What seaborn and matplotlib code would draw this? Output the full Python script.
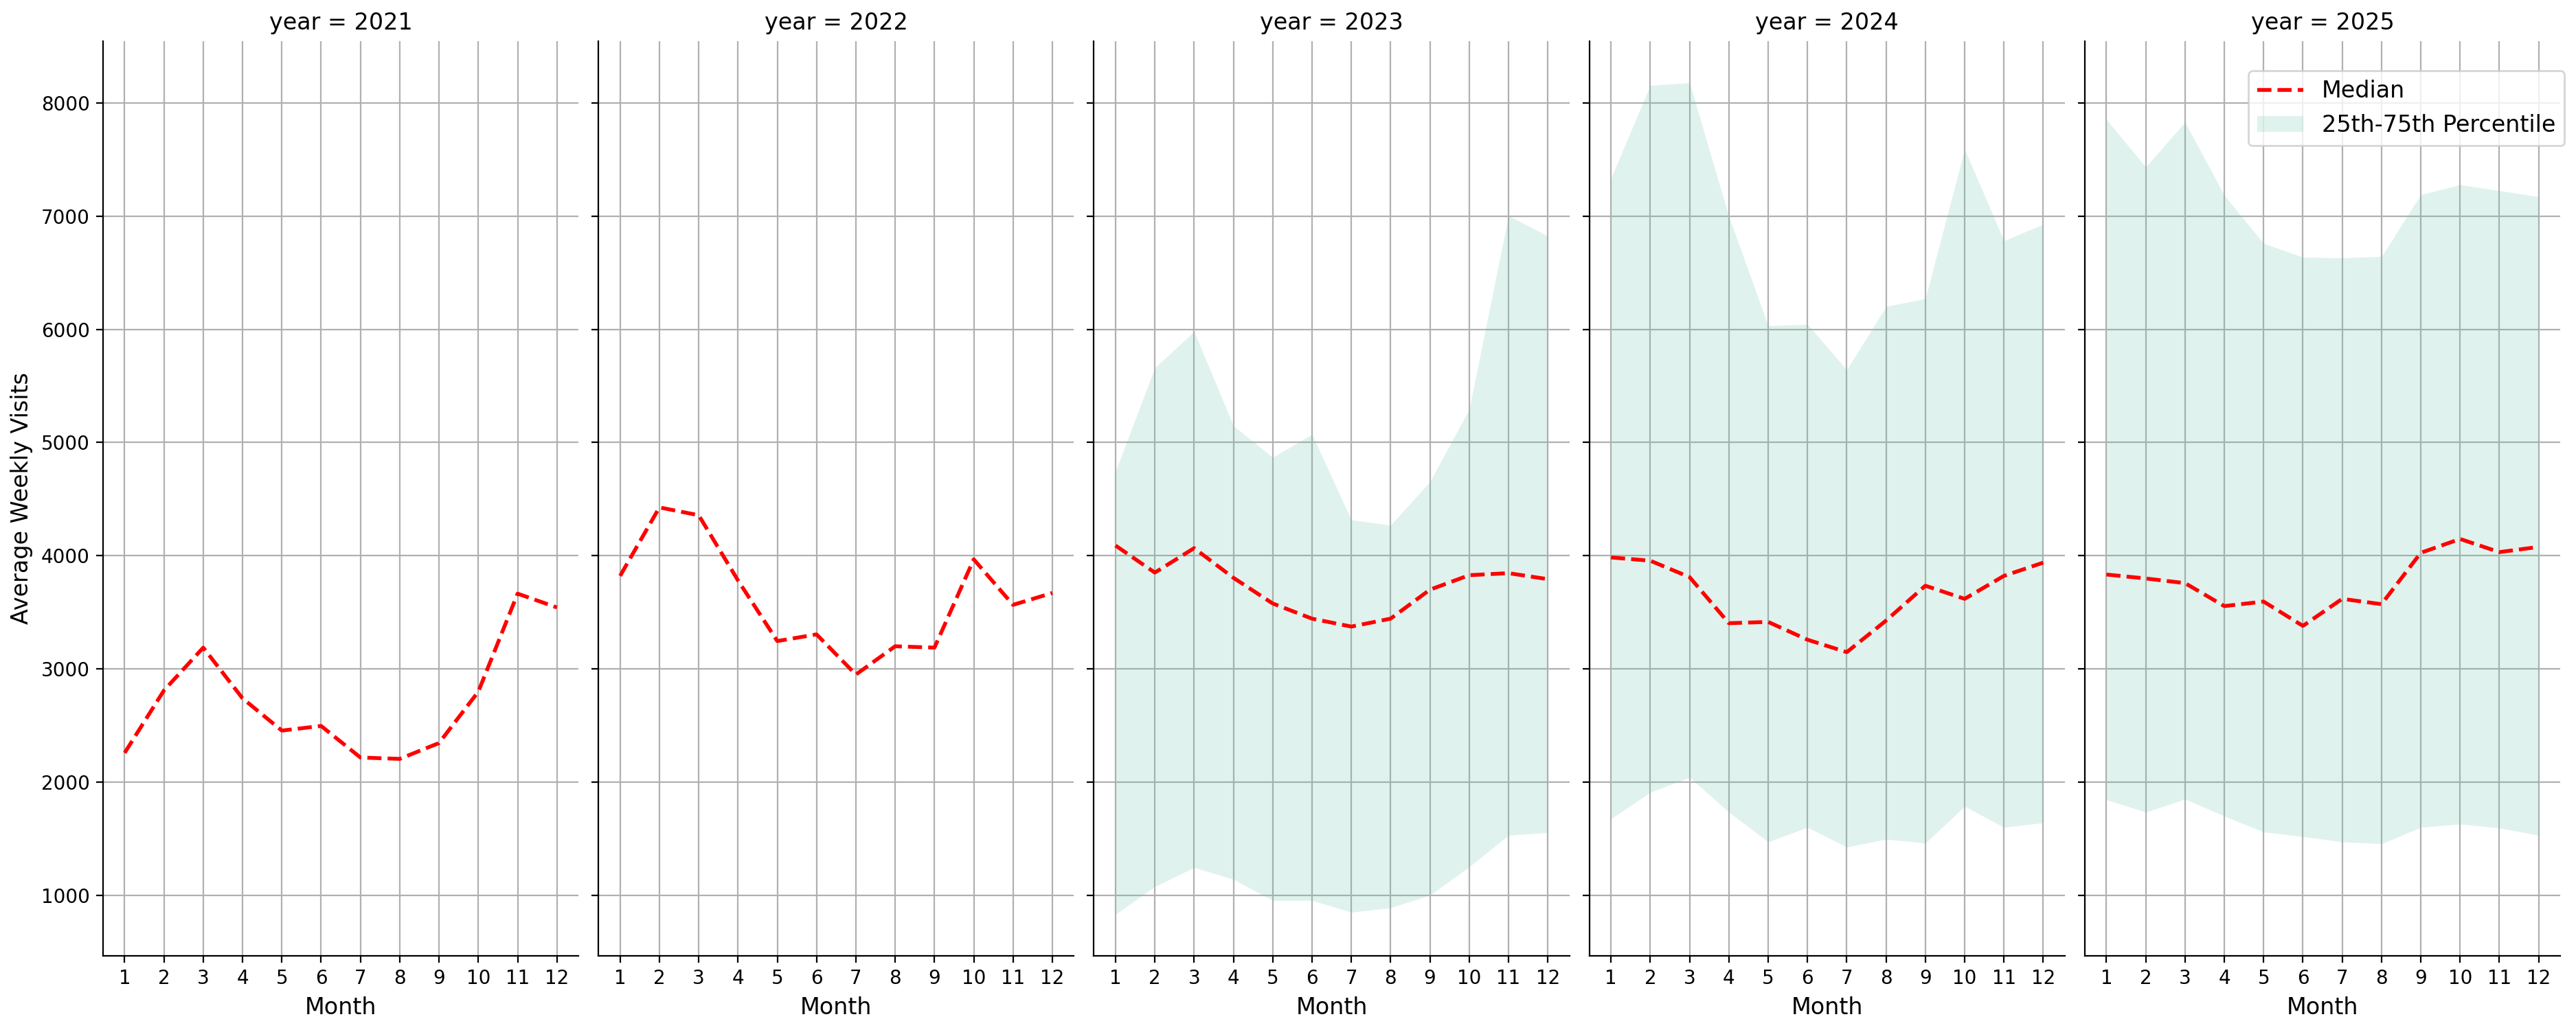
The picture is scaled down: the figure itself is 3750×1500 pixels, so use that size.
# Weekly visits by month, one panel per year (median + IQR band)

import pandas as pd
import numpy as np
import matplotlib
matplotlib.use("Agg")
import matplotlib.pyplot as plt
import seaborn as sns

# Data

years = [2021, 2022, 2023, 2024, 2025]
months = list(range(1, 13))

median_2021 = [2257, 2809, 3187, 2739, 2454, 2495, 2216, 2204, 2344, 2798, 3664, 3542]
median_2022 = [3821, 4426, 4357, 3781, 3245, 3304, 2949, 3199, 3187, 3967, 3565, 3670]
median_2023 = [4089, 3850, 4066, 3804, 3577, 3443, 3373, 3443, 3699, 3827, 3845, 3792]
median_2024 = [3984, 3955, 3810, 3403, 3414, 3257, 3147, 3426, 3734, 3618, 3821, 3938]
median_2025 = [3833, 3798, 3757, 3554, 3594, 3379, 3618, 3571, 4025, 4147, 4031, 4077]

# no spread for the first two years
p25_2021 = [np.nan] * 12
p75_2021 = [np.nan] * 12
p25_2022 = [np.nan] * 12
p75_2022 = [np.nan] * 12

p25_2023 = [831, 1076, 1244, 1140, 953, 953, 849, 889, 1000, 1250, 1529, 1553]
p75_2023 = [4746, 5660, 5980, 5148, 4868, 5072, 4316, 4269, 4653, 5293, 7004, 6823]

p25_2024 = [1675, 1908, 2041, 1733, 1471, 1599, 1425, 1494, 1460, 1785, 1599, 1640]
p75_2024 = [7335, 8155, 8178, 6998, 6032, 6044, 5642, 6201, 6271, 7591, 6782, 6928]

p25_2025 = [1844, 1733, 1849, 1698, 1558, 1518, 1471, 1454, 1599, 1628, 1593, 1529]
p75_2025 = [7853, 7434, 7830, 7184, 6759, 6637, 6631, 6643, 7190, 7277, 7225, 7172]

medians = [median_2021, median_2022, median_2023, median_2024, median_2025]
p25s = [p25_2021, p25_2022, p25_2023, p25_2024, p25_2025]
p75s = [p75_2021, p75_2022, p75_2023, p75_2024, p75_2025]

# Long-form table for the FacetGrid
frames = []
for yr, med, lo, hi in zip(years, medians, p25s, p75s):
    frames.append(pd.DataFrame({
        'year': yr,
        'month': months,
        'median': med,
        'p25': lo,
        'p75': hi,
    }))
df = pd.concat(frames, ignore_index=True)

# Styling
plt.rcParams['xtick.labelsize'] = 10
plt.rcParams['ytick.labelsize'] = 10
plt.rcParams['axes.labelsize'] = 12
plt.rcParams['axes.titlesize'] = 12
plt.rcParams['legend.fontsize'] = 12

band_color = sns.color_palette("Set2")[0]


def draw_year(data, **kws):
    ax = plt.gca()
    ax.set_axisbelow(True)
    ax.grid(True)
    ax.fill_between(data['month'], data['p25'], data['p75'],
                    color=band_color, alpha=0.2, linewidth=0,
                    label='25th-75th Percentile')
    sns.lineplot(data=data, x='month', y='median', ax=ax,
                 color='red', linestyle='--', linewidth=2,
                 errorbar=None, legend=False, label='Median')


g = sns.FacetGrid(df, col='year', height=7.5, aspect=0.5, sharey=True)
g.map_dataframe(draw_year)
g.set_axis_labels('Month', 'Average Weekly Visits')
g.set(xticks=months)

g.figure.subplots_adjust(left=0.04, right=0.9939, bottom=0.072, top=0.96, wspace=0.042)

# Legend (top right)
handles, labels = g.axes.flat[-1].get_legend_handles_labels()
by_label = dict(zip(labels, handles))
order = ['Median', '25th-75th Percentile']
g.figure.legend([by_label[k] for k in order], order,
                loc='upper right', bbox_to_anchor=(1.0, 0.9425))

g.figure.savefig('out.png', dpi=200)
